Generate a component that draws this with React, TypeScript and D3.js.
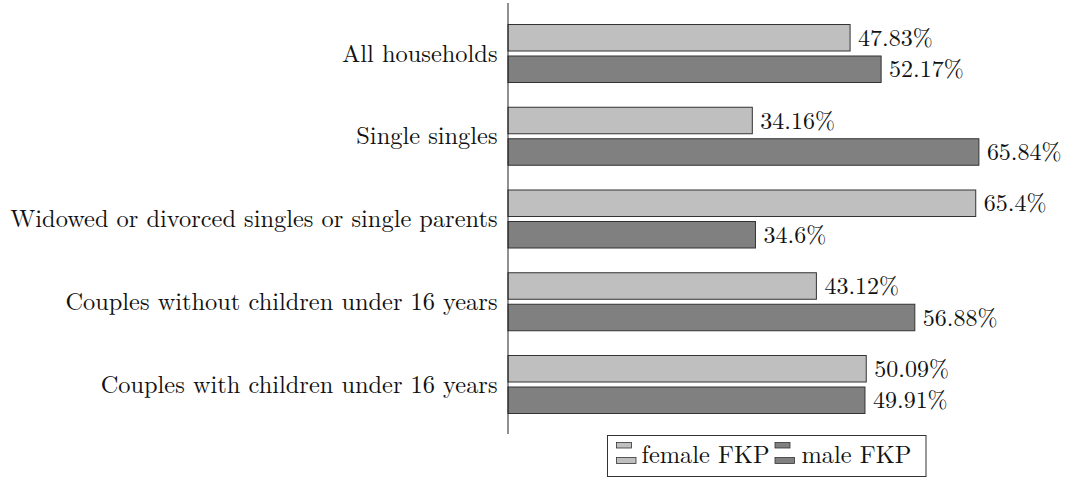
import React from 'react';
import * as d3 from 'd3';

const categories = [
  'All households',
  'Single singles',
  'Widowed or divorced singles or single parents',
  'Couples without children under 16 years',
  'Couples with children under 16 years',
];
const femaleValues = [47.83, 34.16, 65.4, 43.12, 50.09];
const maleValues = [52.17, 65.84, 34.6, 56.88, 49.91];
const seriesNames = ['female FKP', 'male FKP'];

const W = 1070;
const H = 478;
const FONT = "'Latin Modern Roman', 'Liberation Serif', serif";

export default function App() {
  const axisX = 508;
  const x = d3.scaleLinear().domain([0, 100]).range([axisX, axisX + 715.2]);
  const y = d3.scalePoint<string>().domain(categories).range([53.5, 384.5]);
  const barH = 26.5;
  const gap = 5;

  const series = [
    { name: seriesNames[0], values: femaleValues, fill: '#bfbfbf', off: -gap / 2 - barH },
    { name: seriesNames[1], values: maleValues, fill: '#808080', off: gap / 2 },
  ];

  const fmt = (v: number) => `${+v.toFixed(2)}%`;

  const legendItems = [
    { name: seriesNames[0], fill: '#bfbfbf', ix: 616.5, tx: 641.5 },
    { name: seriesNames[1], fill: '#808080', ix: 775, tx: 801.5 },
  ];

  const valueStyle = { fontFamily: FONT, fontSize: 24 };
  const labelStyle = { fontFamily: FONT, fontSize: 24.4 };

  return (
    <svg width={W} height={H} style={{ position: 'absolute', left: 0, top: 0 }}>
      <rect width={W} height={H} fill="#fff" />
      {series.map((s) => (
        <g key={s.name}>
          {categories.map((c, i) => {
            const yy = (y(c) as number) + s.off;
            return (
              <g key={c}>
                <rect x={x(0)} y={yy} width={x(s.values[i]) - x(0)} height={barH}
                  fill={s.fill} stroke="#333" strokeWidth={1} />
                <text x={x(s.values[i]) + 8} y={yy + barH / 2} dy="0.34em" fill="#111" style={valueStyle}>
                  {fmt(s.values[i])}
                </text>
              </g>
            );
          })}
        </g>
      ))}
      {categories.map((c) => (
        <text key={c} x={axisX - 10.5} y={y(c) as number} dy="0.33em" textAnchor="end" fill="#111" style={labelStyle}>
          {c}
        </text>
      ))}
      <line x1={axisX} x2={axisX} y1={3} y2={434} stroke="#222" strokeWidth={1} />
      <rect x={607.5} y={435.5} width={318.5} height={41} fill="#fff" stroke="#333" strokeWidth={1} />
      {legendItems.map((l) => (
        <g key={l.name}>
          <rect x={l.ix} y={442.5} width={15} height={5.5} fill={l.fill} stroke="#333" strokeWidth={0.8} />
          <rect x={l.ix} y={457.5} width={19.5} height={6} fill={l.fill} stroke="#333" strokeWidth={0.8} />
          <text x={l.tx} y={463} fill="#111" style={labelStyle}>{l.name}</text>
        </g>
      ))}
    </svg>
  );
}
